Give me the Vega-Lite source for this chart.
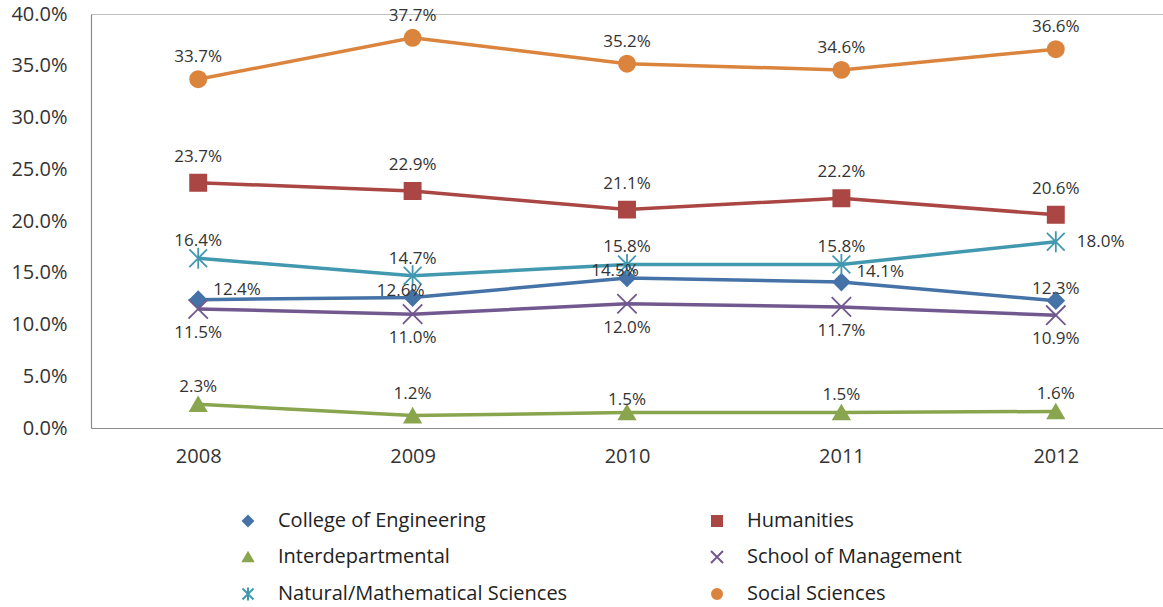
{
  "$schema": "https://vega.github.io/schema/vega-lite/v6.json",
  "width": 1072,
  "height": 414,
  "autosize": {"type": "none"},
  "padding": {"left": 91, "top": 14, "right": 0, "bottom": 179},
  "background": "white",
  "config": {
    "view": {"stroke": "#c0c0c0", "strokeWidth": 1},
    "font": "Open Sans",
    "text": {"font": "Open Sans"}
  },
  "data": {
    "values": [
      {"series": "College of Engineering", "year": "2008", "value": 0.124},
      {"series": "College of Engineering", "year": "2009", "value": 0.126},
      {"series": "College of Engineering", "year": "2010", "value": 0.145},
      {"series": "College of Engineering", "year": "2011", "value": 0.141},
      {"series": "College of Engineering", "year": "2012", "value": 0.123},
      {"series": "Humanities", "year": "2008", "value": 0.237},
      {"series": "Humanities", "year": "2009", "value": 0.229},
      {"series": "Humanities", "year": "2010", "value": 0.211},
      {"series": "Humanities", "year": "2011", "value": 0.222},
      {"series": "Humanities", "year": "2012", "value": 0.206},
      {"series": "Interdepartmental", "year": "2008", "value": 0.023},
      {"series": "Interdepartmental", "year": "2009", "value": 0.012},
      {"series": "Interdepartmental", "year": "2010", "value": 0.015},
      {"series": "Interdepartmental", "year": "2011", "value": 0.015},
      {"series": "Interdepartmental", "year": "2012", "value": 0.016},
      {"series": "School of Management", "year": "2008", "value": 0.115},
      {"series": "School of Management", "year": "2009", "value": 0.110},
      {"series": "School of Management", "year": "2010", "value": 0.120},
      {"series": "School of Management", "year": "2011", "value": 0.117},
      {"series": "School of Management", "year": "2012", "value": 0.109},
      {"series": "Natural/Mathematical Sciences", "year": "2008", "value": 0.164},
      {"series": "Natural/Mathematical Sciences", "year": "2009", "value": 0.147},
      {"series": "Natural/Mathematical Sciences", "year": "2010", "value": 0.158},
      {"series": "Natural/Mathematical Sciences", "year": "2011", "value": 0.158},
      {"series": "Natural/Mathematical Sciences", "year": "2012", "value": 0.180},
      {"series": "Social Sciences", "year": "2008", "value": 0.337},
      {"series": "Social Sciences", "year": "2009", "value": 0.377},
      {"series": "Social Sciences", "year": "2010", "value": 0.352},
      {"series": "Social Sciences", "year": "2011", "value": 0.346},
      {"series": "Social Sciences", "year": "2012", "value": 0.366}
    ]
  },
  "encoding": {
    "x": {
      "field": "year", "type": "ordinal",
      "scale": {"type": "point", "padding": 0.5},
      "axis": {"title": null, "labelAngle": 0, "ticks": false, "labelPadding": 18, "labelFontSize": 20, "labelColor": "#333333", "domainColor": "#8c8c8c", "domainWidth": 1.2, "labelFont": "Open Sans"}
    },
    "y": {
      "field": "value", "type": "quantitative",
      "scale": {"domain": [0, 0.4], "nice": false},
      "axis": {"title": null, "values": [0, 0.05, 0.1, 0.15, 0.2, 0.25, 0.3, 0.35, 0.4], "format": ".1%", "grid": false, "ticks": false, "labelPadding": 24, "labelFontSize": 20, "labelColor": "#333333", "domainColor": "#8c8c8c", "domainWidth": 1.2, "labelFont": "Open Sans"}
    }
  },
  "layer": [
    {
      "mark": {"type": "line", "strokeWidth": 3.5},
      "encoding": {
        "color": {
          "field": "series", "type": "nominal",
          "scale": {
            "domain": ["College of Engineering", "Humanities", "Interdepartmental", "School of Management", "Natural/Mathematical Sciences", "Social Sciences"],
            "range": ["#4572A7", "#AA4643", "#89A54E", "#71588F", "#4198AF", "#DB843D"]
          },
          "legend": {
            "orient": "none",
            "legendX": 147,
            "legendY": 497,
            "title": null,
            "columns": 2,
            "direction": "horizontal",
            "padding": 0,
            "columnPadding": 139,
            "rowPadding": 16,
            "labelFontSize": 20,
            "labelFont": "Open Sans",
            "labelColor": "#222222",
            "labelOffset": 20,
            "labelLimit": 400,
            "symbolSize": 100,
            "symbolStrokeWidth": 2
          }
        }
      }
    },
    {
      "mark": {"type": "point", "filled": true, "opacity": 1, "strokeWidth": 1.8, "size": 260},
      "encoding": {
        "color": {"field": "series", "type": "nominal"},
        "stroke": {
          "field": "series", "type": "nominal", "legend": null,
          "scale": {
            "domain": ["College of Engineering", "Humanities", "Interdepartmental", "School of Management", "Natural/Mathematical Sciences", "Social Sciences"],
            "range": ["#4572A7", "#AA4643", "#89A54E", "#71588F", "#4198AF", "#DB843D"]
          }
        },
        "shape": {
          "field": "series", "type": "nominal", "legend": null,
          "scale": {
            "domain": ["College of Engineering", "Humanities", "Interdepartmental", "School of Management", "Natural/Mathematical Sciences", "Social Sciences"],
            "range": ["diamond", "square", "triangle-up", "M-1.2,-1.2L1.2,1.2M-1.2,1.2L1.2,-1.2", "M-1.1,-1.1L1.1,1.1M-1.1,1.1L1.1,-1.1M0,-1.3V1.3", "circle"]
          }
        }
      }
    },
    {
      "transform": [{"filter": "datum.series === 'Social Sciences' || (datum.series === 'Interdepartmental' && datum.year === '2009')"}],
      "mark": {"type": "text", "dy": -22, "fontSize": 17, "color": "#333333", "font": "Open Sans"},
      "encoding": {"text": {"field": "value", "type": "quantitative", "format": ".1%"}}
    },
    {
      "transform": [{"filter": "datum.series === 'Humanities'"}],
      "mark": {"type": "text", "dy": -26, "fontSize": 17, "color": "#333333", "font": "Open Sans"},
      "encoding": {"text": {"field": "value", "type": "quantitative", "format": ".1%"}}
    },
    {
      "transform": [{"filter": "(datum.series === 'Natural/Mathematical Sciences' && datum.year !== '2012') || (datum.series === 'Interdepartmental' && (datum.year === '2008' || datum.year === '2011' || datum.year === '2012'))"}],
      "mark": {"type": "text", "dy": -17, "fontSize": 17, "color": "#333333", "font": "Open Sans"},
      "encoding": {"text": {"field": "value", "type": "quantitative", "format": ".1%"}}
    },
    {
      "transform": [{"filter": "(datum.series === 'Interdepartmental' && datum.year === '2010') || (datum.series === 'College of Engineering' && datum.year === '2012')"}],
      "mark": {"type": "text", "dy": -12, "fontSize": 17, "color": "#333333", "font": "Open Sans"},
      "encoding": {"text": {"field": "value", "type": "quantitative", "format": ".1%"}}
    },
    {
      "transform": [{"filter": "datum.series === 'College of Engineering' && (datum.year === '2009' || datum.year === '2010')"}],
      "mark": {"type": "text", "dx": -12, "dy": -7, "fontSize": 17, "color": "#333333", "font": "Open Sans"},
      "encoding": {"text": {"field": "value", "type": "quantitative", "format": ".1%"}}
    },
    {
      "transform": [{"filter": "datum.series === 'College of Engineering' && (datum.year === '2008' || datum.year === '2011')"}],
      "mark": {"type": "text", "align": "left", "dx": 15, "dy": -10, "fontSize": 17, "color": "#333333", "font": "Open Sans"},
      "encoding": {"text": {"field": "value", "type": "quantitative", "format": ".1%"}}
    },
    {
      "transform": [{"filter": "datum.series === 'Natural/Mathematical Sciences' && datum.year === '2012'"}],
      "mark": {"type": "text", "align": "left", "dx": 21, "dy": 0, "fontSize": 17, "color": "#333333", "font": "Open Sans"},
      "encoding": {"text": {"field": "value", "type": "quantitative", "format": ".1%"}}
    },
    {
      "transform": [{"filter": "datum.series === 'School of Management'"}],
      "mark": {"type": "text", "dy": 24, "fontSize": 17, "color": "#333333", "font": "Open Sans"},
      "encoding": {"text": {"field": "value", "type": "quantitative", "format": ".1%"}}
    }
  ]
}
